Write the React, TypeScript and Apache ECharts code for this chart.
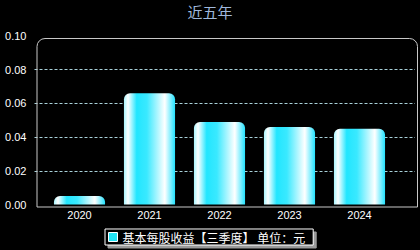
import React, { useEffect, useRef } from "react";
import * as echarts from "echarts";

const categories = ["2020", "2021", "2022", "2023", "2024"];
const eps = [0.005, 0.066, 0.049, 0.046, 0.045];
const yTicks = { min: 0, max: 0.1, interval: 0.02 };
const seriesName = "基本每股收益【三季度】 单位：元";
const titleText = "近五年";

export default function App() {
  const ref = useRef<HTMLDivElement>(null);
  useEffect(() => {
    document.body.style.margin = "0";
    document.body.style.background = "#000";
    const chart = echarts.init(ref.current!, null, { renderer: "svg" });
    const frame = { left: 34.5, right: 5, top: 36, bottom: 45.5 };
    const plot = { left: 44.5, right: 25.5, top: 36, bottom: 45.5 };
    chart.setOption({
      animation: false,
      backgroundColor: "#000",
      title: {
        text: titleText,
        left: "center",
        top: 4,
        padding: 0,
        textStyle: { color: "#9fb8dc", fontSize: 15, fontWeight: "normal", fontFamily: "Noto Sans CJK SC" },
      },
      grid: [
        { left: frame.left, right: frame.right, top: frame.top, bottom: frame.bottom },
        { left: plot.left, right: plot.right, top: plot.top, bottom: plot.bottom },
      ],
      graphic: [
        {
          type: "rect",
          left: frame.left,
          top: frame.top,
          shape: { width: 420 - frame.left - frame.right, height: 250 - frame.top - frame.bottom, r: [8, 8, 0, 0] },
          style: { fill: "none", stroke: "#c8c8c8", lineWidth: 1 },
          z: 10,
          silent: true,
        },
      ],
      legend: {
        bottom: 5,
        left: 105,
        data: [seriesName],
        icon: "rect",
        itemWidth: 9,
        itemHeight: 9,
        itemGap: 4,
        padding: [2, 8, 2, 3],
        backgroundColor: "#000",
        borderColor: "#ffffff",
        borderWidth: 1,
        borderRadius: 0,
        shadowColor: "#9a9a9a",
        shadowOffsetX: 3,
        shadowOffsetY: 3,
        shadowBlur: 0,
        itemStyle: { color: "#22e3f5", borderColor: "#ffffff", borderWidth: 1 },
        textStyle: { color: "#ffffff", fontSize: 12, fontFamily: "Noto Sans CJK SC", padding: [0, 0, 0, 0] },
      },
      xAxis: [
        {
          type: "category",
          gridIndex: 0,
          data: categories,
          show: false,
        },
        {
          type: "category",
          gridIndex: 1,
          data: categories,
          axisLine: { show: false },
          axisTick: { show: false },
          axisLabel: { color: "#ffffff", fontSize: 11, margin: 5, fontFamily: "Liberation Sans" },
          splitLine: { show: false },
        },
      ],
      yAxis: [
        {
          type: "value",
          gridIndex: 0,
          min: yTicks.min,
          max: yTicks.max,
          interval: yTicks.interval,
          axisLine: { show: false },
          axisTick: { show: false },
          axisLabel: {
            color: "#ffffff",
            fontSize: 11,
            margin: 8,
            fontFamily: "Liberation Sans",
            formatter: (v: number) => v.toFixed(2),
          },
          splitLine: {
            show: true,
            showMinLine: false,
            showMaxLine: false,
            lineStyle: { color: "#a8d0d8", type: [3, 2], width: 1 },
          },
        },
        {
          type: "value",
          gridIndex: 1,
          min: yTicks.min,
          max: yTicks.max,
          interval: yTicks.interval,
          show: false,
          splitLine: { show: false },
        },
      ],
      series: [
        {
          name: seriesName,
          type: "bar",
          xAxisIndex: 1,
          yAxisIndex: 1,
          data: eps,
          barWidth: "73%",
          itemStyle: {
            borderRadius: [6, 6, 0, 0],
            color: new echarts.graphic.LinearGradient(0, 0, 1, 0, [
              { offset: 0, color: "#a8f6ff" },
              { offset: 0.08, color: "#ffffff" },
              { offset: 0.25, color: "#22e6ff" },
              { offset: 0.45, color: "#3ae9ff" },
              { offset: 0.8, color: "#ffffff" },
              { offset: 1, color: "#22e2ff" },
            ]),
          },
        },
      ],
    });
    return () => chart.dispose();
  }, []);
  return <div ref={ref} style={{ width: 420, height: 250 }} />;
}
